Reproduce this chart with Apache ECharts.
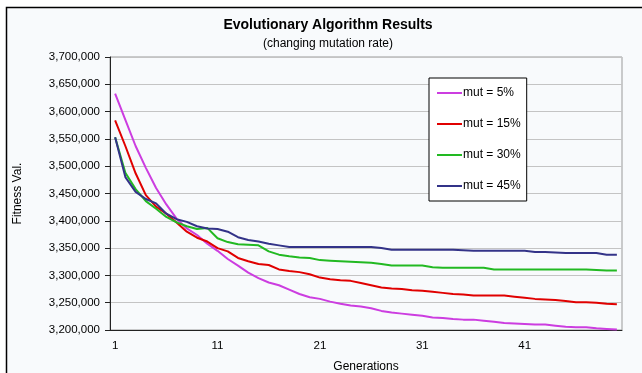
<!DOCTYPE html>
<html>
<head>
<meta charset="utf-8">
<script src="https://cdn.jsdelivr.net/npm/echarts@6/dist/echarts.min.js"></script>
<style>
  html, body { margin: 0; padding: 0; background: #ffffff; }
  #chart { width: 642px; height: 373px; }
</style>
</head>
<body>
<div id="chart"></div>
<script>
const generations = ['1','2','3','4','5','6','7','8','9','10','11','12','13','14','15','16','17','18','19','20',
  '21','22','23','24','25','26','27','28','29','30','31','32','33','34','35','36','37','38','39','40',
  '41','42','43','44','45','46','47','48','49','50'];

const seriesNames = ['mut = 5%', 'mut = 15%', 'mut = 30%', 'mut = 45%'];

const mut5 = [3633000, 3585000, 3537000, 3497000, 3460000, 3430000, 3404000, 3386000, 3374000, 3358000,
  3345000, 3330000, 3318000, 3305000, 3295000, 3287000, 3282000, 3274000, 3266000, 3260000,
  3257000, 3252000, 3248000, 3245000, 3243000, 3240000, 3235000, 3232000, 3230000, 3228000,
  3226000, 3223000, 3222000, 3220000, 3219000, 3219000, 3217000, 3215000, 3213000, 3212000,
  3211000, 3210000, 3210000, 3208000, 3206000, 3205000, 3205000, 3203000, 3202000, 3201000];

const mut15 = [3584000, 3537000, 3487000, 3447000, 3426000, 3413000, 3397000, 3380000, 3369000, 3362000,
  3350000, 3344000, 3332000, 3326000, 3321000, 3319000, 3311000, 3308000, 3306000, 3302000,
  3296000, 3293000, 3291000, 3290000, 3286000, 3282000, 3278000, 3276000, 3275000, 3273000,
  3272000, 3270000, 3268000, 3266000, 3265000, 3263000, 3263000, 3263000, 3263000, 3261000,
  3259000, 3257000, 3256000, 3255000, 3253000, 3251000, 3251000, 3250000, 3248000, 3247000];

const mut30 = [3553000, 3488000, 3458000, 3436000, 3422000, 3407000, 3397000, 3390000, 3385000, 3387000,
  3368000, 3361000, 3357000, 3356000, 3355000, 3344000, 3338000, 3335000, 3333000, 3332000,
  3328000, 3327000, 3326000, 3325000, 3324000, 3323000, 3321000, 3318000, 3318000, 3318000,
  3318000, 3315000, 3314000, 3314000, 3314000, 3314000, 3314000, 3311000, 3311000, 3311000,
  3311000, 3311000, 3311000, 3311000, 3311000, 3311000, 3311000, 3310000, 3309000, 3309000];

const mut45 = [3553000, 3480000, 3453000, 3440000, 3432000, 3413000, 3403000, 3398000, 3390000, 3386000,
  3385000, 3380000, 3370000, 3365000, 3362000, 3358000, 3355000, 3352000, 3352000, 3352000,
  3352000, 3352000, 3352000, 3352000, 3352000, 3352000, 3350000, 3347000, 3347000, 3347000,
  3347000, 3347000, 3347000, 3347000, 3346000, 3345000, 3345000, 3345000, 3345000, 3345000,
  3345000, 3343000, 3343000, 3342000, 3341000, 3341000, 3341000, 3341000, 3338000, 3338000];

const colors = ['#cc3de0', '#e00000', '#22b922', '#333388'];

const font = 'Arial, "Liberation Sans", sans-serif';

const chart = echarts.init(document.getElementById('chart'));

const makeSeries = (name, data, color) => ({
  name: name,
  type: 'line',
  data: data,
  symbol: 'none',
  lineStyle: { width: 2, color: color },
  itemStyle: { color: color },
  z: 3,
});

const option = {
  backgroundColor: '#ffffff',
  animation: false,
  graphic: [
    {
      type: 'rect',
      z: -10,
      silent: true,
      shape: { x: 6.5, y: 7.5, width: 700, height: 400 },
      style: { fill: '#f8fafc', stroke: '#000000', lineWidth: 1.5 },
    },
  ],
  title: {
    text: 'Evolutionary Algorithm Results',
    subtext: '(changing mutation rate)',
    left: 323,
    top: 13,
    textAlign: 'center',
    itemGap: 6,
    textStyle: { fontFamily: font, fontSize: 14, fontWeight: 'bold', color: '#000000' },
    subtextStyle: { fontFamily: font, fontSize: 12, color: '#000000' },
  },
  legend: {
    data: seriesNames,
    orient: 'vertical',
    left: 429,
    top: 78,
    padding: [8, 6, 8, 8],
    itemGap: 17,
    itemWidth: 25,
    itemHeight: 2,
    icon: 'rect',
    backgroundColor: '#ffffff',
    borderColor: '#000000',
    borderWidth: 1,
    textStyle: { fontFamily: font, fontSize: 12, color: '#000000', lineHeight: 14, height: 14, padding: [0, 0, 0, -4] },
  },
  grid: {
    left: 110,
    right: 20,
    top: 57,
    bottom: 43,
    containLabel: false,
    outerBoundsMode: 'none',
    show: true,
    borderColor: '#9a9a9a',
    borderWidth: 1,
    backgroundColor: 'transparent',
  },
  xAxis: {
    type: 'category',
    data: generations,
    boundaryGap: true,
    name: 'Generations',
    nameLocation: 'middle',
    nameGap: 31,
    nameTextStyle: { fontFamily: font, fontSize: 12, color: '#000000' },
    axisLine: { lineStyle: { color: '#222222', width: 1 } },
    axisTick: { interval: 9, length: 5, lineStyle: { color: '#222222' } },
    axisLabel: { interval: 9, margin: 10, fontFamily: font, fontSize: 11.5, color: '#000000' },
    splitLine: { show: false },
  },
  yAxis: {
    type: 'value',
    min: 3200000,
    max: 3700000,
    interval: 50000,
    name: 'Fitness Val.',
    nameLocation: 'middle',
    nameGap: 86,
    nameTextStyle: { fontFamily: font, fontSize: 12, color: '#000000' },
    axisLine: { show: true, lineStyle: { color: '#222222', width: 1 } },
    axisTick: { show: true, length: 5, lineStyle: { color: '#222222' } },
    axisLabel: {
      margin: 10,
      fontFamily: font,
      fontSize: 11.5,
      color: '#000000',
      formatter: (v) => v.toString().replace(/\B(?=(\d{3})+(?!\d))/g, ','),
    },
    splitLine: { lineStyle: { color: '#c4c4c4', width: 1 } },
  },
  series: [
    makeSeries(seriesNames[0], mut5, colors[0]),
    makeSeries(seriesNames[1], mut15, colors[1]),
    makeSeries(seriesNames[2], mut30, colors[2]),
    makeSeries(seriesNames[3], mut45, colors[3]),
  ],
};

chart.setOption(option);
</script>
</body>
</html>
